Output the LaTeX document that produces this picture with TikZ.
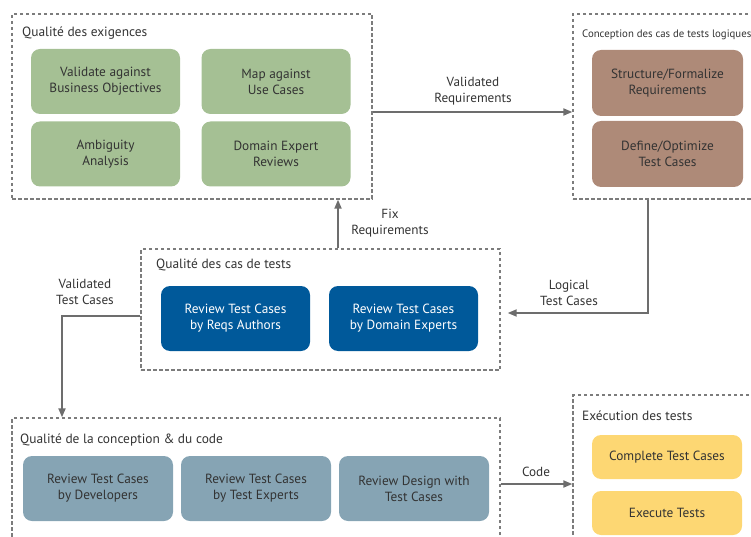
\documentclass[tikz,border=0pt]{standalone}
\usepackage{fontspec}
\setmainfont{PT Sans}
\usepackage{xcolor}
\usetikzlibrary{arrows.meta,positioning}

\definecolor{exgreen}{HTML}{A5C094}
\definecolor{logbrown}{HTML}{AE8A78}
\definecolor{revblue}{HTML}{00599A}
\definecolor{codesteel}{HTML}{86A4B4}
\definecolor{execyellow}{HTML}{FDD773}
\definecolor{txtgray}{HTML}{333333}
\definecolor{linegray}{HTML}{6D6D6D}

\begin{document}
\begin{tikzpicture}[x=1pt, y=-1pt,
                    group/.style={draw=linegray!90, line width=1.3pt, dash pattern=on 3.5pt off 2.5pt, inner sep=0pt},
                    grouptitle/.style={anchor=west, inner sep=0pt, text=txtgray, font=\fontsize{13.4}{15}\selectfont},
                    task/.style={rounded corners=9pt, minimum width=149pt, minimum height=65pt, align=center, inner sep=2pt, text=txtgray, font=\fontsize{13.3}{16}\selectfont},
                    flow/.style={draw=linegray, line width=1.8pt, -{Triangle[length=9pt,width=7pt]}},
                    lbl/.style={align=center, inner sep=0pt, text=txtgray, font=\fontsize{13.2}{16}\selectfont},
                   ]

\clip (0,0) rectangle (751,537);

% groups
\node[group, minimum width=360pt, minimum height=185pt] (exig) at (192,106.5) {};
\node[group, minimum width=190pt, minimum height=185pt] (logic) at (668,106.5) {};
\node[group, minimum width=359pt, minimum height=121pt] (castests) at (320.5,309.5) {};
\node[group, minimum width=488pt, minimum height=127pt] (concep) at (256,481.5) {};
\node[group, minimum width=190pt, minimum height=150pt] (exec) at (668,470) {};

\node[grouptitle] (texig) at (22,33) {Qualité des exigences};
\node[grouptitle, font=\fontsize{10.8}{12}\selectfont] (tlogic) at (582,35) {Conception des cas de tests logiques};
\node[grouptitle] (tcas) at (156,265) {Qualité des cas de tests};
\node[grouptitle] (tconcep) at (20,440) {Qualité de la conception \& du code};
\node[grouptitle] (texec) at (582,416) {Exécution des tests};

% tasks
\node[task, fill=exgreen] (bizobj) at (105.5,81.5) {Validate against\\Business Objectives};
\node[task, fill=exgreen] (usecases) at (276,81.5) {Map against\\Use Cases};
\node[task, fill=exgreen] (ambig) at (105.5,154) {Ambiguity\\Analysis};
\node[task, fill=exgreen] (domexp) at (276,154) {Domain Expert\\Reviews};

\node[task, fill=logbrown, minimum width=151pt, minimum height=66pt] (structreq) at (667.5,83) {Structure/Formalize\\Requirements};
\node[task, fill=logbrown, minimum width=151pt, minimum height=66pt] (defopt) at (667.5,154) {Define/Optimize\\Test Cases};

\node[task, fill=revblue, text=white] (revauth) at (235.5,318.5) {Review Test Cases\\by Reqs Authors};
\node[task, fill=revblue, text=white] (revdom) at (403.5,318.5) {Review Test Cases\\by Domain Experts};

\node[task, fill=codesteel, minimum width=150pt] (revdev) at (98,488.5) {Review Test Cases\\by Developers};
\node[task, fill=codesteel, minimum width=150pt] (revtest) at (256,488.5) {Review Test Cases\\by Test Experts};
\node[task, fill=codesteel, minimum width=150pt] (revdesign) at (414,488.5) {Review Design with\\Test Cases};

\node[task, fill=execyellow, minimum width=150pt, minimum height=44pt] (complete) at (667,457) {Complete Test Cases};
\node[task, fill=execyellow, minimum width=150pt, minimum height=44pt] (execute) at (667,513) {Execute Tests};

% connectors
\draw[flow] (exig.east |- 0,112) -- (logic.west |- 0,112);
\draw[flow, shorten >=7pt] (logic.south -| 648,0) |- (castests.east |- 0,313);
\draw[flow] (castests.north -| 338,0) -- (exig.south -| 338,0);
\draw[flow] (castests.west |- 0,316) -| (concep.north -| 62,0);
\draw[flow] (concep.east |- 0,484) -- (exec.west |- 0,484);

\node[lbl] (lvalreq) at (473,91.5) {Validated\\Requirements};
\node[lbl] (lfix) at (390,223) {Fix\\Requirements};
\node[lbl] (llogic) at (569,292.5) {Logical\\Test Cases};
\node[lbl] (lvaltc) at (85,292) {Validated\\Test Cases};
\node[lbl] (lcode) at (536,472) {Code};

\end{tikzpicture}
\end{document}
